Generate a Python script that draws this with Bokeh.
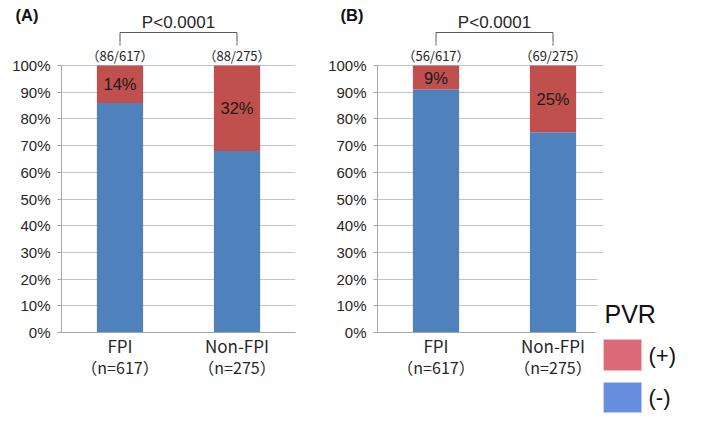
from bokeh.plotting import figure
from bokeh.layouts import row, column
from bokeh.models import (Range1d, FixedTicker, NumeralTickFormatter, LinearAxis,
                          ColumnDataSource)
from bokeh.core.properties import value
from bokeh.embed import file_html
from bokeh.resources import INLINE

# ---- data ----
categories = ["FPI", "Non-FPI"]
n_labels = ["\uff08n=617\uff09", "\uff08n=275\uff09"]
pos_A = [0.14, 0.32]
neg_A = [0.86, 0.68]
pos_A_labels = ["14%", "32%"]
count_A = ["\uff0886/617\uff09", "\uff0888/275\uff09"]
pos_B = [0.09, 0.25]
neg_B = [0.91, 0.75]
pos_B_labels = ["9%", "25%"]
count_B = ["\uff0856/617\uff09", "\uff0869/275\uff09"]
p_value_text = "P<0.0001"
y_ticks = [0.0, 0.1, 0.2, 0.3, 0.4, 0.5, 0.6, 0.7, 0.8, 0.9, 1.0]
legend_title = "PVR"
legend_labels = ["(+)", "(-)"]

# ---- styles ----
BLUE = "#4F81BD"
RED = "#C0504D"
LEG_COLORS = ["#DC6A76", "#688EE2"]
LEG_EDGES = ["#F2B9BF", "#B5C8F2"]
TXT = "#262626"
BRACKET = "#595959"
CJK = "Noto Sans CJK JP"
LAT = "Liberation Sans"

xs = [0.5, 1.5]
U = 117.0            # pixels per x unit
UY = 267.0           # pixels per y unit
HDR_H = 42
MAIN_H = 422 - HDR_H
FRAME_H = 290
Y_TOP = FRAME_H / UY
BRACKET_FOOT = 1 + 20 / UY   # lower end of bracket legs, in data units


def blank(width, height, xr, yr):
    p = figure(width=width, height=height, output_backend="svg", toolbar_location=None,
               x_range=xr, y_range=yr, x_axis_type=None, y_axis_type=None,
               min_border_left=0, min_border_right=0, min_border_top=0,
               min_border_bottom=0)
    p.outline_line_color = None
    p.background_fill_color = "white"
    p.border_fill_color = "white"
    p.grid.visible = False
    return p


def header(tag, width, left_border):
    h = blank(width, HDR_H, Range1d(-left_border / U, (width - left_border) / U),
              Range1d(HDR_H, 0))
    h.text(x=[-(left_border - 15) / U], y=[14], text=[tag], text_font=value(LAT),
           text_font_size="16.5px", text_font_style="bold", text_baseline="middle",
           text_align="left", text_color="#111111")
    h.line(x=[xs[0], xs[0], xs[1], xs[1]], y=[HDR_H + 5, 32, 32, HDR_H + 5],
           line_color=BRACKET, line_width=1)
    h.text(x=[sum(xs) / 2], y=[21.5], text=[p_value_text], text_align="center",
           text_baseline="middle", text_font=value(LAT), text_font_size="17px",
           text_color=TXT)
    return h


def panel(neg, pos, pos_labels, counts, width, left_border, x_end, cover_from=None):
    p = figure(width=width, height=MAIN_H, output_backend="svg", toolbar_location=None,
               x_range=Range1d(0, x_end), y_range=Range1d(0, Y_TOP),
               min_border_left=left_border,
               min_border_right=width - left_border - int(round(x_end * U)),
               min_border_top=0, min_border_bottom=MAIN_H - FRAME_H)
    p.outline_line_color = None
    p.background_fill_color = "white"
    p.border_fill_color = "white"

    src = ColumnDataSource(dict(x=xs, neg=neg, pos=pos,
                                mid=[n + q / 2 for n, q in zip(neg, pos)],
                                lab=pos_labels, cnt=counts,
                                top=[n + q for n, q in zip(neg, pos)]))
    p.vbar_stack(["neg", "pos"], x="x", width=0.395, color=[BLUE, RED],
                 line_color=None, source=src)
    p.text(x="x", y="mid", text="lab", source=src, text_align="center",
           text_baseline="middle", text_font=value(LAT),
           text_font_size="16.5px", text_color="#1a1a1a")
    p.text(x="x", y="top", text="cnt", source=src, text_align="center",
           text_baseline="middle", text_font=value(CJK),
           text_font_size="13px", text_color=TXT, y_offset=-10)
    # lower ends of the bracket legs (continue the header's bracket)
    p.segment(x0=xs, y0=[BRACKET_FOOT] * 2, x1=xs, y1=[Y_TOP + 0.05] * 2,
              line_color=BRACKET, line_width=1)

    if cover_from is not None:
        # white background of the legend box hides the ends of the low grid lines
        p.quad(left=[cover_from], right=[x_end], bottom=[0], top=[0.27],
               fill_color="white", line_color=None)

    ya = p.yaxis[0]
    ya.ticker = FixedTicker(ticks=y_ticks)
    ya.formatter = NumeralTickFormatter(format="0%")
    ya.bounds = (0, 1)
    ya.axis_line_color = "#A6A6A6"
    ya.major_tick_line_color = "#A6A6A6"
    ya.major_tick_out = 4
    ya.major_tick_in = 0
    ya.minor_tick_line_color = None
    ya.major_label_standoff = 7
    ya.major_label_text_font = LAT
    ya.major_label_text_font_size = "15px"
    ya.major_label_text_color = TXT

    xa = p.xaxis[0]
    xa.ticker = FixedTicker(ticks=xs)
    xa.major_label_overrides = {x: lab for x, lab in zip(xs, categories)}
    xa.axis_line_color = "#A6A6A6"
    xa.major_tick_line_color = None
    xa.minor_tick_line_color = None
    xa.major_label_standoff = -6
    xa.major_label_text_font = CJK
    xa.major_label_text_font_size = "17px"
    xa.major_label_text_color = TXT
    if cover_from is not None:
        xa.bounds = (0, cover_from - 0.02)

    xa2 = LinearAxis(ticker=FixedTicker(ticks=xs),
                     major_label_overrides={x: lab for x, lab in zip(xs, n_labels)},
                     axis_line_color=None, major_tick_line_color=None,
                     minor_tick_line_color=None, major_label_standoff=-12,
                     major_label_text_font=CJK, major_label_text_font_size="16px",
                     major_label_text_color=TXT)
    p.add_layout(xa2, "below")

    p.xgrid.visible = False
    p.ygrid.grid_line_color = "#C4C4C4"
    return p


hA = header("(A)", 325, 61)
hB = header("(B)", 278, 52)
pA = panel(neg_A, pos_A, pos_A_labels, count_A, 325, 61, 2.0)
pB = panel(neg_B, pos_B, pos_B_labels, count_B, 278, 52, 226 / U,
           cover_from=(597 - 377) / U)

# legend area (page pixel coordinates), full height so nothing is cut
pL = blank(106, 422, Range1d(603, 709), Range1d(422, 0))
pL.text(x=[604], y=[313], text=[legend_title], text_font=value(LAT),
        text_font_size="25px", text_baseline="middle", text_color="#111111")
leg = ColumnDataSource(dict(left=[603, 603], right=[641, 641], top=[339, 382],
                            bottom=[370, 412], color=LEG_COLORS, edge=LEG_EDGES,
                            lab=legend_labels, lx=[648, 648], ly=[355, 397]))
pL.quad(left="left", right="right", top="top", bottom="bottom", fill_color="color",
        line_color="edge", line_width=1, source=leg)
pL.text(x="lx", y="ly", text="lab", source=leg, text_font=value(LAT),
        text_font_size="22px", text_baseline="middle", text_color="#111111")

charts = column(row(hA, hB), row(pA, pB))
layout = row(charts, pL)
open("out.html", "w").write(file_html(layout, INLINE))
